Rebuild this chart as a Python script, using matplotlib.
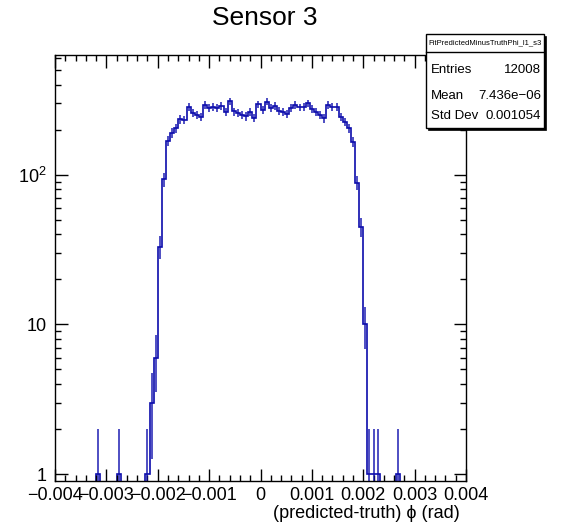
'''
Residual histogram for sensor 3: predicted minus truth phi, log scale,
drawn in the ROOT style with a stats box in the corner.
'''
import numpy as np
import matplotlib
matplotlib.use("Agg")
import matplotlib.pyplot as plt
from matplotlib.ticker import FixedLocator, FixedFormatter, MultipleLocator, NullFormatter
from matplotlib.patches import Rectangle

HIST_NAME = "FitPredictedMinusTruthPhi_l1_s3"
TITLE = "Sensor 3"
X_TITLE = "(predicted-truth) \u03d5 (rad)"
X_MIN = -0.004
X_MAX = 0.004
N_BINS = 100

# bin contents, 100 bins from -0.004 to 0.004
BIN_COUNTS = [
    0, 0, 0, 0, 0, 0, 0, 0, 0, 0,
    1, 0, 0, 0, 0, 1, 0, 0, 0, 0,
    0, 0, 1, 3, 6, 33, 93, 169, 190, 204,
    235, 233, 285, 260, 251, 244, 292, 278, 285, 278,
    288, 262, 310, 265, 258, 251, 245, 262, 240, 296,
    270, 308, 278, 288, 268, 262, 256, 278, 292, 282,
    285, 300, 275, 262, 251, 238, 292, 285, 285, 244,
    226, 205, 165, 88, 45, 10, 1, 1, 1, 0,
    0, 0, 0, 1, 0, 0, 0, 0, 0, 0,
    0, 0, 0, 0, 0, 0, 0, 0, 0, 0,
]

STAT_LABELS = ["Entries", "Mean", "Std Dev"]
STAT_VALUES = ["12008", "7.436e\u221206", "0.001054"]

Y_TICKS = [1, 10, 100]
Y_TICK_LABELS = ["1", "10", r"$10^{2}$"]

LINE_COLOR = "#0c0cac"
FONT = ["Liberation Sans", "DejaVu Sans"]

W, H = 564, 529  # pixels


def fmt_x(v):
    '''ROOT style label: plain 0, long minus sign'''
    if abs(v) < 1e-12:
        return "0"
    return f"{v:.3f}".replace("-", "\u2212")


def draw_hist(ax):
    counts = np.array(BIN_COUNTS, dtype=float)
    edges = np.linspace(X_MIN, X_MAX, N_BINS + 1)
    centers = 0.5 * (edges[:-1] + edges[1:])

    ax.stairs(counts, edges, baseline=None, color=LINE_COLOR, linewidth=1.2)

    # sqrt(N) error bars on filled bins
    filled = counts > 0
    err = np.sqrt(counts[filled])
    lo = counts[filled] - err
    lo[lo <= 0] = 1e-3
    hi = counts[filled] + err
    ax.vlines(centers[filled], lo, hi, color=LINE_COLOR, linewidth=1.2, alpha=0.85)


def style_axes(ax):
    ax.set_xlim(X_MIN, X_MAX)
    ax.set_yscale("log")
    ax.set_ylim(0.898, 631)

    xt = np.round(np.arange(X_MIN, X_MAX + 1e-9, 0.001), 4)
    ax.xaxis.set_major_locator(FixedLocator(xt))
    ax.xaxis.set_major_formatter(FixedFormatter([fmt_x(v) for v in xt]))
    ax.xaxis.set_minor_locator(MultipleLocator(0.0002))

    ax.yaxis.set_major_locator(FixedLocator(Y_TICKS))
    ax.yaxis.set_major_formatter(FixedFormatter(Y_TICK_LABELS))
    minors = [m * d for d in (1, 10, 100) for m in range(2, 10)]
    ax.yaxis.set_minor_locator(FixedLocator(minors))
    ax.yaxis.set_minor_formatter(NullFormatter())

    ax.tick_params(which="both", direction="in", top=True, right=True,
                   width=1.0, colors="black")
    ax.tick_params(which="major", length=9)
    ax.tick_params(which="minor", length=4.5)
    ax.tick_params(axis="x", which="major", labelsize=13, pad=4)
    ax.tick_params(axis="y", which="major", labelsize=13, pad=6)
    for lab in ax.get_xticklabels() + ax.get_yticklabels():
        lab.set_family(FONT)
    for sp in ax.spines.values():
        sp.set_linewidth(1.0)


def draw_stats(fig):
    # box corners in pixels from the top left of the figure
    left, top, right, bottom = 426, 34, 544, 128
    shadow = 2
    to_fig = lambda x, y: (x / W, 1 - y / H)

    x0, y0 = to_fig(left + shadow, bottom + shadow)
    fig.patches.append(Rectangle((x0, y0), (right - left) / W, (bottom - top) / H,
                                 transform=fig.transFigure, facecolor="black",
                                 edgecolor="black", linewidth=0.5, zorder=5))
    x0, y0 = to_fig(left, bottom)
    fig.patches.append(Rectangle((x0, y0), (right - left) / W, (bottom - top) / H,
                                 transform=fig.transFigure, facecolor="white",
                                 edgecolor="black", linewidth=1.0, zorder=6))

    # header line under the histogram name
    hx0, hy = to_fig(left, 52)
    hx1, _ = to_fig(right, 52)
    fig.add_artist(plt.Line2D([hx0, hx1], [hy, hy], transform=fig.transFigure,
                              color="black", linewidth=1.0, zorder=7))

    cx, cy = to_fig((left + right) / 2, 43)
    fig.text(cx, cy, HIST_NAME, ha="center", va="center", fontsize=5.5,
             family=FONT, zorder=8)

    rows_y = [70, 96, 116]
    for label, value, ry in zip(STAT_LABELS, STAT_VALUES, rows_y):
        lx, ly = to_fig(left + 5, ry)
        fig.text(lx, ly, label, ha="left", va="center", fontsize=9.5,
                 family=FONT, zorder=8)
        vx, _ = to_fig(right - 3, ry)
        fig.text(vx, ly, value, ha="right", va="center", fontsize=9.5,
                 family=FONT, zorder=8)


def main() -> None:
    plt.rcParams["font.family"] = FONT
    plt.rcParams["mathtext.fontset"] = "custom"
    plt.rcParams["mathtext.rm"] = "Liberation Sans"
    plt.rcParams["mathtext.it"] = "Liberation Sans"
    plt.rcParams["axes.unicode_minus"] = True

    fig = plt.figure(figsize=(W / 100, H / 100), dpi=100)
    # frame from x=55..466, y=55..481 pixels
    ax = fig.add_axes([55 / W, 1 - 481 / H, (466 - 55) / W, (481 - 55) / H])

    draw_hist(ax)
    style_axes(ax)

    fig.text(265 / W, 1 - 18 / H, TITLE, ha="center", va="center",
             fontsize=19, family=FONT)
    fig.text(460 / W, 1 - 514 / H, X_TITLE, ha="right", va="center",
             fontsize=13, family=FONT)

    draw_stats(fig)

    fig.savefig("out.png", dpi=100, facecolor="white")
    plt.close(fig)


if __name__ == "__main__":
    main()
